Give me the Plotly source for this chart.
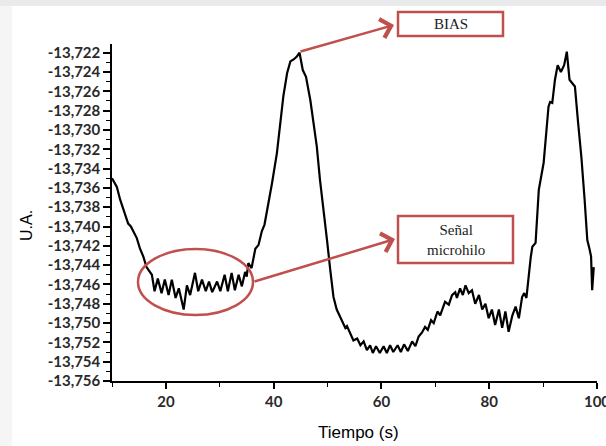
import plotly.graph_objects as go

# ---- data ----
tiempo = [10.0, 10.9, 11.5, 12.1, 13.0, 13.5, 14.0, 14.6, 15.2, 15.8, 16.4, 17.4,
          17.9, 18.5, 19.2, 19.8, 20.5, 21.1, 21.8, 22.4, 23.3, 23.9, 24.5, 25.4,
          26.0, 26.7, 27.4, 28.0, 28.6, 29.5, 30.1, 30.9, 31.5, 32.2, 32.8, 33.5,
          34.1, 34.7, 35.0, 35.3, 35.9, 36.6, 37.2, 37.8, 38.3, 38.7, 39.7, 40.6,
          41.2, 41.8, 42.5, 43.1, 43.7, 44.3, 44.8, 45.4, 46.0, 46.8, 47.4, 48.0,
          48.6, 49.3, 49.9, 50.5, 51.1, 51.7, 52.7, 53.3, 53.6, 54.2, 54.8, 55.5,
          56.1, 56.7, 57.3, 57.9, 58.4, 59.0, 59.7, 60.4, 61.0, 61.6, 62.2, 63.0,
          63.6, 64.2, 64.9, 65.7, 66.3, 66.9, 67.5, 68.1, 68.6, 69.2, 69.7, 70.4,
          70.9, 71.8, 72.5, 73.1, 73.7, 74.0, 74.6, 75.1, 75.6, 76.2, 76.8, 77.4,
          78.1, 78.7, 79.3, 79.9, 80.5, 81.1, 81.8, 82.4, 83.0, 83.6, 84.3, 84.9,
          85.5, 86.1, 86.5, 86.9, 87.3, 87.7, 88.0, 88.6, 89.2, 89.8, 90.1, 91.0,
          91.3, 91.7, 92.2, 92.7, 93.3, 93.9, 94.4, 94.9, 95.9, 96.5, 97.1, 97.7,
          98.2, 98.6, 98.9, 99.1, 99.4]
ua = [-13.7350, -13.7359, -13.7372, -13.7383, -13.7397, -13.7400, -13.7405, -13.7412,
      -13.7423, -13.7431, -13.7442, -13.7450,
      -13.7467, -13.7454, -13.7469, -13.7455, -13.7471, -13.7455, -13.7474, -13.7464,
      -13.7486, -13.7461, -13.7471, -13.7448,
      -13.7467, -13.7455, -13.7467, -13.7457, -13.7468, -13.7457, -13.7467, -13.7450,
      -13.7467, -13.7448, -13.7466, -13.7450,
      -13.7462, -13.7447, -13.7452, -13.7438, -13.7443, -13.7423, -13.7419, -13.7405,
      -13.7398, -13.7386, -13.7355, -13.7324,
      -13.7293, -13.7265, -13.7241, -13.7229, -13.7227, -13.7224, -13.7220, -13.7238,
      -13.7245, -13.7269, -13.7293, -13.7317,
      -13.7352, -13.7383, -13.7414, -13.7445, -13.7473, -13.7486, -13.7497, -13.7505,
      -13.7503, -13.7511, -13.7518, -13.7516,
      -13.7523, -13.7519, -13.7528, -13.7523, -13.7531, -13.7524, -13.7531, -13.7524,
      -13.7531, -13.7523, -13.7530, -13.7523,
      -13.7530, -13.7522, -13.7529, -13.7519, -13.7524, -13.7514, -13.7510, -13.7504,
      -13.7507, -13.7497, -13.7500, -13.7488,
      -13.7492, -13.7478, -13.7481, -13.7471, -13.7468, -13.7474, -13.7464, -13.7471,
      -13.7461, -13.7469, -13.7466, -13.7480,
      -13.7471, -13.7486, -13.7480, -13.7495, -13.7486, -13.7502, -13.7486, -13.7505,
      -13.7488, -13.7509, -13.7492, -13.7483,
      -13.7495, -13.7473, -13.7469, -13.7474, -13.7450, -13.7432, -13.7421, -13.7417,
      -13.7362, -13.7341, -13.7334, -13.7276,
      -13.7271, -13.7272, -13.7248, -13.7233, -13.7240, -13.7233, -13.7219, -13.7248,
      -13.7255, -13.7293, -13.7328, -13.7372,
      -13.7414, -13.7423, -13.7431, -13.7466, -13.7442]

y_tickvals = [-13.722, -13.724, -13.726, -13.728, -13.730, -13.732, -13.734, -13.736,
              -13.738, -13.740, -13.742, -13.744, -13.746, -13.748, -13.750, -13.752,
              -13.754, -13.756]
y_ticktext = ["-13,722", "-13,724", "-13,726", "-13,728", "-13,730", "-13,732", "-13,734",
              "-13,736", "-13,738", "-13,740", "-13,742", "-13,744", "-13,746", "-13,748",
              "-13,750", "-13,752", "-13,754", "-13,756"]
x_tickvals = [20, 40, 60, 80, 100]
x_ticktext = ["20", "40", "60", "80", "100"]

# ---- layout geometry ----
W, H = 606, 446
L, R, T, B = 112, 9, 44, 65
PW, PH = W - L - R, H - T - B
RED = "#c0504d"


def fx(p):
    return (p - L) / PW


def fy(p):
    return (H - B - p) / PH


fig = go.Figure()
fig.add_trace(go.Scatter(x=tiempo, y=ua, mode="lines",
                         line=dict(color="black", width=2.2), showlegend=False,
                         cliponaxis=False))

tickfont = dict(family="Lato", size=15, color="#2a2a2a", weight="bold")
fig.update_xaxes(range=[10, 100], tickmode="array", tickvals=x_tickvals, ticktext=x_ticktext,
                 showline=True, linecolor="black", linewidth=1.5, ticks="outside",
                 ticklen=6, tickwidth=1.5, tickcolor="black", showgrid=False, zeroline=False,
                 tickfont=tickfont, ticklabeloverflow="allow",
                 minor=dict(tickmode="linear", tick0=0, dtick=10, ticks="outside",
                            ticklen=4, tickwidth=1.2, tickcolor="black", showgrid=False))
fig.update_yaxes(range=[-13.756, -13.7211], tickmode="array", tickvals=y_tickvals,
                 ticktext=y_ticktext, showline=True, linecolor="black", linewidth=1.5,
                 ticks="outside", ticklen=7, tickwidth=1.5, tickcolor="black",
                 showgrid=False, zeroline=False, tickfont=tickfont,
                 ticklabeloverflow="allow",
                 minor=dict(tickmode="linear", tick0=-13.756, dtick=0.001, ticks="outside",
                            ticklen=4, tickwidth=1.2, tickcolor="black", showgrid=False))

shapes = [
    dict(type="rect", xref="paper", yref="paper", x0=fx(0), x1=fx(W), y0=fy(6), y1=fy(0),
         fillcolor="#e9eaec", line=dict(width=0), layer="below"),
    dict(type="rect", xref="paper", yref="paper", x0=fx(0), x1=fx(12), y0=fy(H), y1=fy(6),
         fillcolor="#f5f5f6", line=dict(width=0), layer="below"),
    dict(type="circle", xref="paper", yref="paper", x0=fx(138), x1=fx(253), y0=fy(315),
         y1=fy(249), line=dict(color=RED, width=2.5)),
    dict(type="rect", xref="paper", yref="paper", x0=fx(398), x1=fx(503), y0=fy(36),
         y1=fy(12), line=dict(color=RED, width=2.5), fillcolor="white"),
    dict(type="rect", xref="paper", yref="paper", x0=fx(398), x1=fx(513), y0=fy(263),
         y1=fy(216), line=dict(color=RED, width=2.5), fillcolor="white"),
]

serif = dict(family="Liberation Serif", size=15, color="#222")
annotations = [
    dict(xref="paper", yref="paper", x=fx(450.5), y=fy(24), text="BIAS", showarrow=False,
         font=serif, xanchor="center", yanchor="middle"),
    dict(xref="paper", yref="paper", x=fx(455.5), y=fy(240), text="Señal<br>microhilo",
         showarrow=False, font=dict(family="Liberation Serif", size=15, color="#222"),
         xanchor="center", yanchor="middle"),
    dict(xref="paper", yref="paper", x=fx(394), y=fy(25), text="", showarrow=True,
         axref="pixel", ayref="pixel", ax=299 - 394, ay=52 - 25, arrowhead=4,
         arrowsize=1.5, arrowwidth=2.5, arrowcolor=RED, standoff=0, startstandoff=0),
    dict(xref="paper", yref="paper", x=fx(395), y=fy(239), text="", showarrow=True,
         axref="pixel", ayref="pixel", ax=253 - 395, ay=282 - 239, arrowhead=4,
         arrowsize=1.5, arrowwidth=2.5, arrowcolor=RED, standoff=0, startstandoff=0),
    dict(xref="paper", yref="paper", x=fx(26), y=fy(226), text="U.A.", textangle=-90,
         showarrow=False, font=dict(family="Liberation Sans", size=16, color="black"),
         xanchor="center", yanchor="middle"),
    dict(xref="paper", yref="paper", x=fx(358), y=fy(432), text="Tiempo (s)",
         showarrow=False, font=dict(family="Liberation Sans", size=17, color="black"),
         xanchor="center", yanchor="middle"),
]

fig.update_layout(width=W, height=H, margin=dict(l=L, r=R, t=T, b=B, autoexpand=False),
                  paper_bgcolor="white", plot_bgcolor="white",
                  shapes=shapes, annotations=annotations)

fig.write_html("out.html")
